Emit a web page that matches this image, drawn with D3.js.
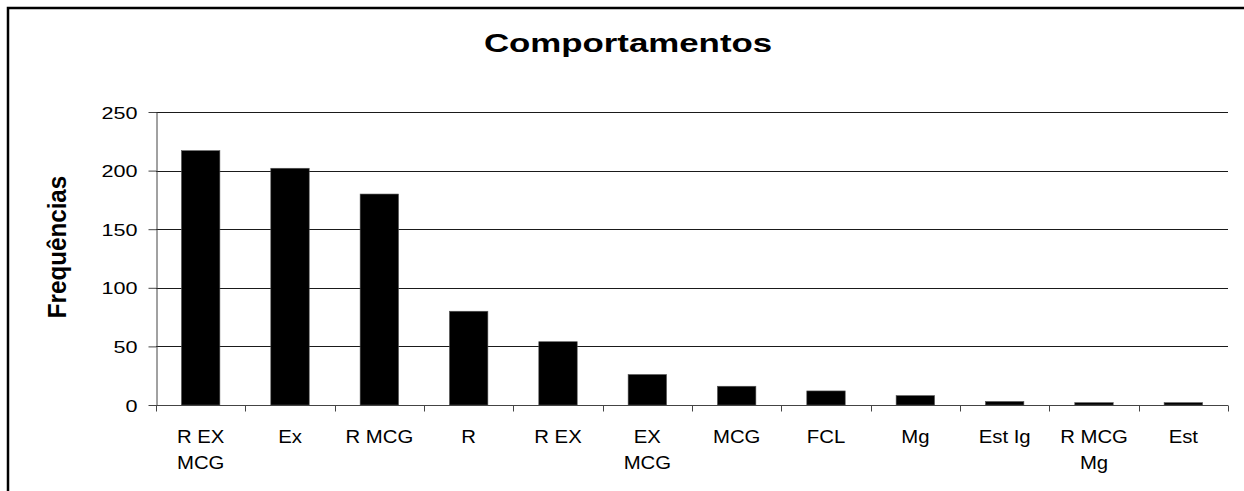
<!DOCTYPE html>
<html>
<head>
<meta charset="utf-8">
<script src="https://cdn.jsdelivr.net/npm/d3@7"></script>
<style>
  html, body { margin: 0; padding: 0; background: #fff; }
  svg { display: block; }
  text { font-family: "Liberation Sans", Arial, sans-serif; fill: #000; }
</style>
</head>
<body>
<svg id="chart" width="1244" height="491"></svg>
<script>
// Behaviour categories and their observed frequencies
const categories = ["R EX\nMCG", "Ex", "R MCG", "R", "R EX", "EX\nMCG", "MCG", "FCL", "Mg", "Est Ig", "R MCG\nMg", "Est"];
const frequencies = [217, 202, 180, 80, 54, 26, 16, 12, 8, 3, 2, 2];
const yTicks = [0, 50, 100, 150, 200, 250];
const chartTitle = "Comportamentos";
const yTitle = "Frequências";

const svg = d3.select("#chart");
const plot = { left: 156, right: 1228, top: 112, bottom: 405 };

const x = d3.scaleBand()
  .domain(categories)
  .range([plot.left, plot.right])
  .paddingInner(0.57)
  .paddingOuter(0.285);

const band = d3.scaleBand().domain(categories).range([plot.left, plot.right]);

const y = d3.scaleLinear().domain([0, 250]).range([plot.bottom, plot.top]);

// Outer chart frame (extends past the visible area on the right and bottom)
svg.append("path")
  .attr("d", "M8,1300 L8,8 L1400,8")
  .attr("fill", "none")
  .attr("stroke", "#000")
  .attr("stroke-width", 2.5);

// Horizontal gridlines
svg.append("g")
  .selectAll("line")
  .data(yTicks.filter(d => d > 0))
  .join("line")
  .attr("x1", plot.left)
  .attr("x2", plot.right)
  .attr("y1", d => Math.round(y(d)) + 0.5)
  .attr("y2", d => Math.round(y(d)) + 0.5)
  .attr("stroke", "#1a1a1a")
  .attr("stroke-width", 1);

// Bars
svg.append("g")
  .selectAll("rect")
  .data(categories.map((c, i) => ({ c, v: frequencies[i] })))
  .join("rect")
  .attr("x", d => x(d.c))
  .attr("width", x.bandwidth())
  .attr("y", d => y(d.v))
  .attr("height", d => y(0) - y(d.v))
  .attr("fill", "#000")
  .attr("stroke", "#555")
  .attr("stroke-width", 0.6);

// Y axis
const yAxis = svg.append("g")
  .attr("transform", `translate(${plot.left + 0.5},0)`)
  .call(d3.axisLeft(y).tickValues(yTicks).tickSize(8).tickSizeOuter(0).tickPadding(11));
yAxis.select(".domain").attr("stroke", "#444");
yAxis.selectAll(".tick line").attr("stroke", "#444");
yAxis.selectAll(".tick text")
  .attr("font-size", 17)
  .attr("font-family", "Liberation Sans, Arial, sans-serif")
  .attr("fill", "#000")
  .attr("dy", "0.36em")
  .attr("x", null)
  .attr("text-anchor", "end")
  .attr("transform", "translate(-19,0) scale(1.27,1)");

// X axis: ticks at the category boundaries
const xAxisG = svg.append("g").attr("transform", `translate(0,${plot.bottom + 0.5})`);
xAxisG.append("line")
  .attr("x1", plot.left).attr("x2", plot.right)
  .attr("stroke", "#444");
const boundaries = categories.map(c => band(c)).concat([plot.right]);
xAxisG.selectAll("line.tk")
  .data(boundaries)
  .join("line")
  .attr("class", "tk")
  .attr("x1", d => Math.round(d) + 0.5).attr("x2", d => Math.round(d) + 0.5)
  .attr("y1", 0).attr("y2", 6)
  .attr("stroke", "#444");

// Category labels (wrapped onto two lines where needed)
const labels = svg.append("g");
categories.forEach(c => {
  const cx = band(c) + band.bandwidth() / 2;
  const t = labels.append("text")
    .attr("text-anchor", "middle")
    .attr("font-size", 18)
    .attr("transform", `translate(${cx},443) scale(1.13,1)`);
  c.split("\n").forEach((line, i) => {
    t.append("tspan").attr("x", 0).attr("y", i * 26).text(line);
  });
});

// Chart title
svg.append("text")
  .attr("text-anchor", "middle")
  .attr("font-size", 26)
  .attr("font-weight", "bold")
  .attr("transform", "translate(628,52) scale(1.34,1)")
  .text(chartTitle);

// Y axis title
svg.append("text")
  .attr("text-anchor", "middle")
  .attr("font-size", 22)
  .attr("font-weight", "bold")
  .attr("transform", "translate(66,247) rotate(-90) scale(1.1,1.15)")
  .text(yTitle);
</script>
</body>
</html>
